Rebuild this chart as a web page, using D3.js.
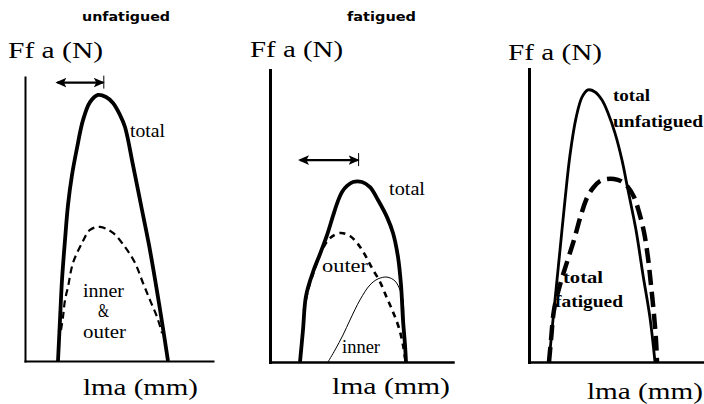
<!DOCTYPE html>
<html>
<head>
<meta charset="utf-8">
<script src="https://cdn.jsdelivr.net/npm/d3@7"></script>
<style>
  body { margin: 0; background: #fff; }
  svg { display: block; }
</style>
</head>
<body>
<svg id="chart" width="704" height="404"></svg>
<script>
// curves as [lma, force] pairs (arbitrary units)

// panel 1 - unfatigued
const unfatTotal = [[16.5,0],[17.5,13.7],[18.5,27],[20,40.3],[21.5,52],[23.5,62],[26,71],[29,80.3],[32.5,86.3],[36.5,88.7],[40.5,88],[44,86],[47.5,82],[50,78],[54,65.3],[58,52],[62,38.7],[65.5,25.3],[68.5,13],[71.5,0]];
const unfatInnerOuter = [[18,10.3],[19,14.7],[20,20.3],[21.5,24.7],[24,32.7],[28.5,39.3],[32.5,43.7],[37.5,44.7],[44,42.7],[50,38],[55,32.7],[59,26],[62.5,20.3],[66,14.7],[68.5,9.3]];

// panel 2 - fatigued
const fatTotal = [[15,0],[16.5,10.7],[18,22],[21.5,30],[25,36],[28.5,42.3],[31.5,48.7],[34,53.7],[36,56.7],[38.5,58.7],[41.5,60],[46,60],[50,58.3],[54,54],[58.5,48.3],[61.5,43],[64,35],[65.5,25.7],[66.5,14],[67.5,5.7],[68,0]];
const fatOuter = [[17,17.3],[19,24],[22.5,31.3],[26,37.3],[30,41.3],[35,43],[40,42],[44,39.3],[47.5,35.7],[51,31.3],[55,26.7],[58.5,21.3],[61.5,16.7],[64.5,11.3],[66.5,5.7],[67.5,1.3]];
const fatInner = [[29,0],[32.5,4],[36.5,9],[40,14],[45,20.7],[50,25.7],[54,27.7],[58.5,28.3],[62.5,27],[65,24],[66.5,20.7],[67,14],[68,0]];

// panel 3 - comparison
const cmpUnfatigued = [[10,0],[11.5,10.7],[13,20.7],[15.5,37.3],[18,54],[20.5,69],[23.5,81.3],[26.5,88.3],[29.5,90.7],[33,90],[36.5,87.3],[39.5,83],[43,76.3],[46.5,67.3],[49.5,57.3],[53.5,44],[57,29],[60.5,14.7],[63,0]];
const cmpFatigued = [[10,0],[11,7.3],[12.5,17.3],[15.5,25.7],[19,33.3],[22.5,40.7],[26,49],[29,54.7],[32,58],[35.5,60.3],[39,61],[42.5,61],[46,60.3],[49.5,58.3],[52.5,55],[55,50],[57.5,43.3],[59.5,34.7],[61,25.7],[62.5,15.7],[63.5,7.3],[64,0]];

// optimum shift arrows: [from lma, to lma, force level]
const shiftArrows = [[16.2, 38.9, 92.8], [15, 43.8, 67.3]];

// texts
const panelTitles = ["unfatigued", "fatigued"];
const yTitle = "Ff a (N)";
const xTitle = "lma (mm)";
const curveNames = [["total", "inner", "&", "outer"], ["total", "outer", "inner"], ["total", "unfatigued", "total", "fatigued"]];

// ---- layout ----
const panels = [
  { ox: 25, oy: 361, xEnd: 213, yTop: 77, yAxisW: 2, xAxisW: 2 },
  { ox: 270, oy: 362, xEnd: 453, yTop: 70, yAxisW: 3, xAxisW: 2.5 },
  { ox: 529, oy: 362, xEnd: 704, yTop: 69, yAxisW: 3, xAxisW: 2.5 }
];
const titlePos = [[82, 21, 88], [347, 21, 69]];
const yTitlePos = [[8, 58, 95], [250, 57, 93], [508, 60, 94]];
const xTitlePos = [[83, 395, 115], [332, 394, 118], [587, 399, 116]];
const namePos = [
  [[130, 137, 35], [83, 297, 41], [98, 317, 11], [83, 338, 43]],
  [[389, 195, 36], [322, 272, 46], [342, 353, 38]],
  [[613, 101, 37], [613, 127, 90], [563, 283, 40], [555, 307, 68]]
];

const svg = d3.select("#chart");
const serif = "'Liberation Serif', 'Times New Roman', serif";

// arrow head
svg.append("defs").append("marker")
  .attr("id", "head")
  .attr("markerUnits", "userSpaceOnUse")
  .attr("viewBox", "0 -5 11 10")
  .attr("refX", 9)
  .attr("refY", 0)
  .attr("markerWidth", 11)
  .attr("markerHeight", 10)
  .attr("orient", "auto-start-reverse")
  .append("path")
  .attr("d", "M0,-4.8L11,0L0,4.8L2.5,0Z")
  .attr("fill", "#000");

// scales: 2px per lma unit, 3px per force unit
panels.forEach(p => {
  p.x = d3.scaleLinear().domain([0, (p.xEnd - p.ox) / 2]).range([p.ox, p.xEnd]);
  p.y = d3.scaleLinear().domain([0, (p.oy - p.yTop) / 3]).range([p.oy, p.yTop]);
});

function addText(str, pos, size, weight, family) {
  svg.append("text")
    .attr("x", pos[0])
    .attr("y", pos[1])
    .attr("textLength", pos[2])
    .attr("lengthAdjust", "spacingAndGlyphs")
    .attr("font-family", family || serif)
    .attr("font-size", size)
    .attr("font-weight", weight || "normal")
    .attr("fill", "#000")
    .text(str);
}

// texts go under the lines
panelTitles.forEach((t, i) => addText(t, titlePos[i], 12, "bold", "'DejaVu Sans', sans-serif"));
panels.forEach((p, i) => {
  addText(yTitle, yTitlePos[i], 23);
  addText(xTitle, xTitlePos[i], 24);
  curveNames[i].forEach((n, j) => addText(n, namePos[i][j], i === 2 ? 17 : 18, i === 2 ? "bold" : "normal"));
});

// axes, no ticks
panels.forEach(p => {
  svg.append("g")
    .attr("transform", "translate(0," + p.oy + ")")
    .call(d3.axisBottom(p.x).tickValues([]).tickSizeOuter(0))
    .select(".domain")
    .attr("stroke-width", p.xAxisW)
    .attr("stroke-linecap", "square");
  svg.append("g")
    .attr("transform", "translate(" + p.ox + ",0)")
    .call(d3.axisLeft(p.y).tickValues([]).tickSizeOuter(0))
    .select(".domain")
    .attr("stroke-width", p.yAxisW)
    .attr("stroke-linecap", "square");
});

function drawCurve(p, data, width, dash) {
  const line = d3.line()
    .x(d => p.x(d[0]))
    .y(d => p.y(d[1]))
    .curve(d3.curveCatmullRom.alpha(0.5));
  svg.append("path")
    .datum(data)
    .attr("d", line)
    .attr("fill", "none")
    .attr("stroke", "#000")
    .attr("stroke-width", width)
    .attr("stroke-dasharray", dash || null)
    .attr("stroke-linejoin", "round");
}

drawCurve(panels[0], unfatInnerOuter, 2.2, "7,4.5");
drawCurve(panels[0], unfatTotal, 3.8);

drawCurve(panels[1], fatInner, 1);
drawCurve(panels[1], fatOuter, 2.6, "6,5");
drawCurve(panels[1], fatTotal, 3.8);

drawCurve(panels[2], cmpUnfatigued, 2.8);
drawCurve(panels[2], cmpFatigued, 4.5, "15,7");

// double arrows with an end tick at the optimum
shiftArrows.forEach((a, i) => {
  const p = panels[i];
  svg.append("line")
    .attr("x1", p.x(a[0])).attr("x2", p.x(a[1]))
    .attr("y1", p.y(a[2])).attr("y2", p.y(a[2]))
    .attr("stroke", "#000")
    .attr("stroke-width", 2.4)
    .attr("marker-start", "url(#head)")
    .attr("marker-end", "url(#head)");
  svg.append("line")
    .attr("x1", p.x(a[1]) + 1).attr("x2", p.x(a[1]) + 1)
    .attr("y1", p.y(a[2]) - 7).attr("y2", p.y(a[2]) + 6)
    .attr("stroke", "#000")
    .attr("stroke-width", 1);
});
</script>
</body>
</html>
